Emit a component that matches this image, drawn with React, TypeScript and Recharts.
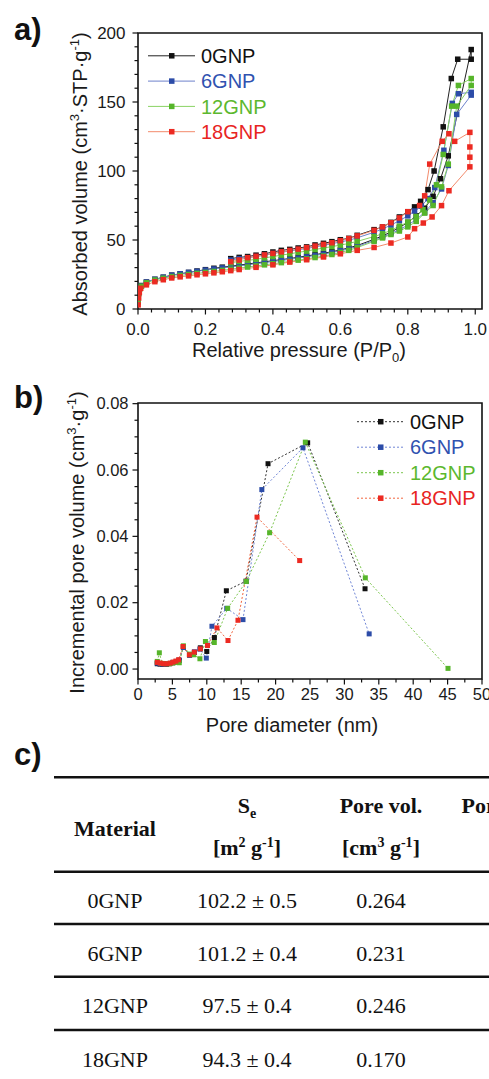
import React from "react";
import { LineChart, Line, XAxis, YAxis, ReferenceArea, Legend, Label } from "recharts";

type Pt = [number, number];

// a) N2 isotherms, relative pressure vs absorbed volume (adsorption, then desorption back down)
const iso0GNP: Pt[] = [
  [0.0005, 6], [0.002, 12], [0.005, 15.5], [0.01, 17], [0.025, 19.5], [0.05, 21.5], [0.075, 23], [0.1, 24.5],
  [0.125, 25.5], [0.15, 26.5], [0.175, 27.5], [0.2, 28.5], [0.225, 29.5], [0.25, 30.3], [0.275, 31], [0.3, 31.8],
  [0.325, 32.6], [0.35, 33.4], [0.375, 34.2], [0.4, 35], [0.425, 35.8], [0.45, 36.6], [0.475, 37.5], [0.5, 38.4],
  [0.525, 39.4], [0.55, 40.4], [0.575, 41.5], [0.6, 42.8], [0.625, 44.3], [0.65, 46], [0.7, 50.5], [0.725, 53],
  [0.75, 55.8], [0.775, 59], [0.8, 62.8], [0.825, 67.5], [0.85, 73], [0.875, 81.6], [0.897, 94.4], [0.92, 111],
  [0.988, 188],
  [0.988, 181], [0.948, 181], [0.929, 167], [0.905, 132], [0.878, 100], [0.86, 86.5], [0.838, 78], [0.82, 74],
  [0.8, 70.5], [0.775, 66.7], [0.75, 62.8], [0.725, 59.4], [0.7, 57.5], [0.65, 53.4], [0.625, 51.2], [0.6, 50.2],
  [0.575, 48.8], [0.55, 47.6], [0.525, 46.4], [0.5, 45], [0.475, 44.2], [0.45, 43.2], [0.425, 42.5], [0.4, 41.3],
  [0.375, 40], [0.35, 39], [0.325, 38], [0.3, 37.4], [0.275, 36.5],
];
const iso6GNP: Pt[] = [
  [0.0005, 5.5], [0.002, 11.5], [0.005, 15], [0.01, 16.8], [0.025, 19.5], [0.05, 21.5], [0.075, 23], [0.1, 24.5],
  [0.125, 25.5], [0.15, 26.5], [0.175, 27.3], [0.2, 28.2], [0.225, 29], [0.25, 29.8], [0.275, 30.5], [0.3, 31.2],
  [0.325, 32], [0.35, 32.8], [0.375, 33.6], [0.4, 34.4], [0.425, 35.2], [0.45, 36], [0.475, 36.9], [0.5, 37.8],
  [0.525, 38.8], [0.55, 39.8], [0.575, 40.9], [0.6, 42.2], [0.625, 43.6], [0.65, 45.3], [0.7, 49.6], [0.725, 52],
  [0.75, 54.7], [0.775, 57.5], [0.8, 60.8], [0.825, 64.8], [0.85, 70], [0.875, 77], [0.9, 87], [0.92, 104],
  [0.945, 141], [0.988, 155],
  [0.988, 157], [0.95, 156], [0.932, 149], [0.907, 115], [0.88, 88], [0.86, 80], [0.84, 74.5], [0.82, 71],
  [0.8, 67.5], [0.775, 64], [0.75, 60.8], [0.725, 58], [0.7, 55.6], [0.65, 51.6], [0.625, 49.8], [0.6, 48.6],
  [0.575, 47.3], [0.55, 46.1], [0.525, 45], [0.5, 43.8], [0.475, 43], [0.45, 42], [0.425, 41.2], [0.4, 40.2],
  [0.375, 39], [0.35, 38], [0.325, 37.2], [0.3, 36.5], [0.275, 35.5],
];
const iso12GNP: Pt[] = [
  [0.0005, 5], [0.002, 11], [0.005, 14.5], [0.01, 16.5], [0.025, 19], [0.05, 21], [0.075, 22.3], [0.1, 23.5],
  [0.125, 24.3], [0.15, 25], [0.175, 25.8], [0.2, 26.5], [0.225, 27.2], [0.25, 28], [0.275, 28.8], [0.3, 29.6],
  [0.325, 30.4], [0.35, 31.2], [0.375, 32], [0.4, 32.8], [0.425, 33.6], [0.45, 34.5], [0.475, 35.4], [0.5, 36.3],
  [0.525, 37.3], [0.55, 38.4], [0.575, 39.5], [0.6, 41], [0.625, 42.5], [0.65, 44.5], [0.7, 49], [0.725, 51.5],
  [0.75, 54], [0.775, 56.5], [0.8, 59.5], [0.825, 63.5], [0.85, 69.5], [0.875, 75], [0.9, 88.5], [0.92, 105],
  [0.945, 147], [0.988, 162], [0.988, 167],
  [0.95, 162], [0.93, 147], [0.905, 112], [0.885, 90], [0.865, 79], [0.845, 72], [0.825, 67], [0.8, 63],
  [0.775, 60], [0.75, 57], [0.725, 54.5], [0.7, 52.5], [0.65, 49], [0.625, 47.5], [0.6, 46.3], [0.575, 45.2],
  [0.55, 44.2], [0.525, 43.1], [0.5, 42], [0.475, 41], [0.45, 40], [0.425, 39], [0.4, 38], [0.375, 37],
  [0.35, 36], [0.325, 35.2], [0.3, 34.5], [0.275, 33.5],
];
const iso18GNP: Pt[] = [
  [0.0005, 3], [0.002, 8], [0.004, 12], [0.008, 15], [0.025, 17.5], [0.05, 19.8], [0.075, 21.2], [0.1, 22.5],
  [0.125, 23.3], [0.15, 24], [0.175, 24.8], [0.2, 25.5], [0.225, 26.2], [0.25, 27], [0.275, 27.8], [0.3, 28.6],
  [0.35, 30.2], [0.4, 32], [0.45, 34], [0.5, 35.7], [0.55, 37.7], [0.6, 40], [0.65, 42.5], [0.7, 44.6],
  [0.75, 47.8], [0.8, 52.2], [0.82, 58.2], [0.846, 62.3], [0.872, 66.7], [0.9, 74.9], [0.922, 85.7],
  [0.984, 103], [0.984, 110], [0.984, 117.4], [0.984, 128],
  [0.939, 121.5], [0.922, 127], [0.902, 121.5], [0.865, 105], [0.85, 82], [0.835, 75], [0.8, 70.5], [0.775, 66],
  [0.75, 62.5], [0.725, 59.5], [0.7, 57], [0.65, 53], [0.625, 51], [0.6, 49.5], [0.575, 48], [0.55, 46.8],
  [0.525, 45.6], [0.5, 44.5], [0.475, 43.4], [0.45, 42.4], [0.425, 41.4], [0.4, 40.3], [0.375, 39.2],
  [0.35, 38.2], [0.325, 37.2], [0.3, 35.5], [0.275, 34.3],
];

// b) incremental pore volume vs pore diameter (nm)
const pore0GNP: Pt[] = [
  [2.8, 0.0016], [3.2, 0.0015], [3.6, 0.0014], [4.1, 0.0014], [4.6, 0.0016], [5.1, 0.0019], [5.6, 0.0022],
  [6.0, 0.0026], [6.6, 0.0066], [7.5, 0.0042], [8.2, 0.005], [9.06, 0.0064], [10.0, 0.0053], [11.1, 0.0095],
  [12.84, 0.0236], [15.7, 0.0265], [18.9, 0.0619], [24.66, 0.0682], [33.0, 0.0242],
];
const pore6GNP: Pt[] = [
  [2.8, 0.0018], [3.2, 0.0016], [3.6, 0.0015], [4.1, 0.0015], [4.6, 0.0017], [5.1, 0.002], [5.6, 0.0023],
  [6.0, 0.0027], [6.6, 0.0065], [7.5, 0.0042], [8.2, 0.0052], [9.0, 0.006], [9.93, 0.0033], [10.75, 0.0129],
  [12.9, 0.0183], [15.26, 0.0149], [18.0, 0.0541], [23.98, 0.0667], [33.6, 0.0106],
];
const pore12GNP: Pt[] = [
  [2.8, 0.0023], [3.1, 0.0049], [3.5, 0.0017], [4.0, 0.0016], [4.5, 0.0016], [5.0, 0.0018], [5.5, 0.002],
  [6.0, 0.0019], [6.6, 0.007], [7.5, 0.0045], [8.1, 0.0043], [9.0, 0.0031], [9.8, 0.0083], [11.09, 0.008],
  [13.03, 0.0183], [15.74, 0.0264], [19.13, 0.0411], [24.32, 0.0684], [33.04, 0.0275], [45.06, 0.0002],
];
const pore18GNP: Pt[] = [
  [2.8, 0.002], [3.25, 0.0018], [3.73, 0.0016], [4.2, 0.0016], [4.7, 0.0018], [5.1, 0.0021], [5.5, 0.0024],
  [5.9, 0.0028], [6.54, 0.0068], [7.46, 0.0043], [8.19, 0.0051], [9.06, 0.0061], [10.1, 0.0071],
  [11.48, 0.0124], [13.08, 0.0086], [14.53, 0.0147], [17.3, 0.0458], [23.5, 0.0327],
];

const seriesNames = ["0GNP", "6GNP", "12GNP", "18GNP"];
const isoSeries = [iso0GNP, iso6GNP, iso12GNP, iso18GNP];
const poreSeries = [pore0GNP, pore6GNP, pore12GNP, pore18GNP];

const isoXMajor = [0, 0.2, 0.4, 0.6, 0.8, 1.0];
const isoYMajor = [0, 50, 100, 150, 200];
const poreXMajor = [0, 5, 10, 15, 20, 25, 30, 35, 40, 45, 50];
const poreYMajor = [0, 0.02, 0.04, 0.06, 0.08];

// c) table
const tableMaterials = ["0GNP", "6GNP", "12GNP", "18GNP"];
const tableSurface = ["102.2 ± 0.5", "101.2 ± 0.4", "97.5 ± 0.4", "94.3 ± 0.4"];
const tablePoreVol = ["0.264", "0.231", "0.246", "0.170"];

const markColors = ["#111111", "#2c4ca8", "#56b52a", "#ec2a22"];
const isoLineColors = ["#222222", "#6d82cc", "#8ad364", "#f38b6c"];
const poreLineColors = ["#333333", "#7086d6", "#7cc64e", "#f2663f"];
const textColors = ["#111111", "#3052b0", "#5cb82e", "#e8251f"];

const SANS = "'Liberation Sans', Arial, sans-serif";
const SERIF = "'Liberation Serif', 'Times New Roman', serif";

const toRows = (pts: Pt[]) => pts.map(([p, v]) => ({ p, v }));

function withMinor(majors: number[], sub: number) {
  const out: number[] = [];
  for (let i = 0; i < majors.length - 1; i++) {
    const step = (majors[i + 1] - majors[i]) / sub;
    for (let k = 0; k < sub; k++) out.push(+(majors[i] + k * step).toFixed(5));
  }
  out.push(majors[majors.length - 1]);
  return out;
}

const isMajor = (majors: number[], v: number) => majors.some((m) => Math.abs(m - v) < 1e-7);

const squareDot = (fill: string, size: number) => (props: any) => {
  const { cx, cy, index } = props;
  if (cx == null || cy == null) return <g key={index} />;
  return <rect key={index} x={cx - size / 2} y={cy - size / 2} width={size} height={size} fill={fill} />;
};

function bottomTick(majors: number[], fmt: (v: number) => string, labelDy: number, fs: number) {
  return (props: any) => {
    const { x, y, payload } = props;
    const major = isMajor(majors, payload.value);
    return (
      <g>
        <line x1={x} x2={x} y1={y} y2={y + (major ? 5.5 : 3.5)} stroke="#111" strokeWidth={1.2} />
        {major && (
          <text x={x} y={y + labelDy} textAnchor="middle" fontSize={fs} fill="#1a1a1a" fontFamily={SANS}>
            {fmt(payload.value)}
          </text>
        )}
      </g>
    );
  };
}

function leftTick(majors: number[], fmt: (v: number) => string, gap: number, fs: number) {
  return (props: any) => {
    const { x, y, payload } = props;
    const major = isMajor(majors, payload.value);
    return (
      <g>
        <line x1={x - (major ? 5.5 : 3.5)} x2={x} y1={y} y2={y} stroke="#111" strokeWidth={1.2} />
        {major && (
          <text x={x - gap} y={y} dy="0.35em" textAnchor="end" fontSize={fs} fill="#1a1a1a" fontFamily={SANS}>
            {fmt(payload.value)}
          </text>
        )}
      </g>
    );
  };
}

function LegendBox({ x0, y0, dy, dash }: { x0: number; y0: number; dy: number; dash?: string }) {
  const lineColors = dash ? poreLineColors : isoLineColors;
  return (
    <svg width={489} height={370} style={{ position: "absolute", left: 0, top: 0 }}>
      {seriesNames.map((name, i) => {
        const cy = y0 + i * dy;
        return (
          <g key={name}>
            <line x1={x0} x2={x0 + 47} y1={cy} y2={cy} stroke={lineColors[i]} strokeWidth={1} strokeDasharray={dash} />
            <rect x={x0 + 21} y={cy - 2.75} width={5.5} height={5.5} fill={markColors[i]} />
            <text x={x0 + 53} y={cy} dy="0.36em" fontSize={20} fill={textColors[i]} fontFamily={SANS}>
              {name}
            </text>
          </g>
        );
      })}
    </svg>
  );
}

function IsothermChart() {
  return (
    <LineChart width={489} height={370} margin={{ top: 33, right: 7, bottom: 0, left: 0 }}>
      <XAxis
        type="number"
        dataKey="p"
        domain={[0, 1.02]}
        ticks={withMinor(isoXMajor, 5)}
        interval={0}
        allowDataOverflow
        height={61}
        axisLine={false}
        tickLine={false}
        tickSize={0}
        tickMargin={0}
        tick={bottomTick(isoXMajor, (v) => v.toFixed(1), 26, 17)}
      >
        <Label
          content={() => (
            <text x={299} y={357} textAnchor="middle" fontSize={20} fill="#1a1a1a" fontFamily={SANS}>
              Relative pressure (P/P<tspan dy={5} fontSize={13}>0</tspan>
              <tspan dy={-5}>)</tspan>
            </text>
          )}
        />
      </XAxis>
      <YAxis
        type="number"
        domain={[0, 200]}
        ticks={withMinor(isoYMajor, 5)}
        interval={0}
        width={138}
        axisLine={false}
        tickLine={false}
        tickSize={0}
        tickMargin={0}
        tick={leftTick(isoYMajor, (v) => String(v), 12.5, 17)}
      >
        <Label
          content={() => (
            <text transform="translate(87,174) rotate(-90)" textAnchor="middle" fontSize={20} fill="#1a1a1a" fontFamily={SANS}>
              Absorbed volume (cm<tspan dy={-8} fontSize={13}>3</tspan>
              <tspan dy={8}>·STP·g</tspan>
              <tspan dy={-8} fontSize={13}>-1</tspan>
              <tspan dy={8}>)</tspan>
            </text>
          )}
        />
      </YAxis>
      <ReferenceArea x1={0} x2={1.02} y1={0} y2={200} fill="none" stroke="#111" strokeWidth={1.6} ifOverflow="visible" />
      {isoSeries.map((s, i) => (
        <Line
          key={seriesNames[i]}
          data={toRows(s)}
          dataKey="v"
          type="linear"
          stroke={isoLineColors[i]}
          strokeWidth={1}
          dot={squareDot(markColors[i], 5.5)}
          activeDot={false}
          isAnimationActive={false}
        />
      ))}
      <Legend
        layout="vertical"
        align="center"
        verticalAlign="middle"
        wrapperStyle={{ position: "absolute", left: 0, top: 0, width: 489, height: 370 }}
        content={() => <LegendBox x0={148} y0={55.8} dy={25.3} />}
      />
    </LineChart>
  );
}

function PoreChart() {
  return (
    <LineChart width={489} height={370} margin={{ top: 33, right: 7, bottom: 0, left: 0 }}>
      <XAxis
        type="number"
        dataKey="p"
        domain={[0, 50]}
        ticks={withMinor(poreXMajor, 2)}
        interval={0}
        allowDataOverflow
        height={61}
        axisLine={false}
        tickLine={false}
        tickSize={0}
        tickMargin={0}
        tick={bottomTick(poreXMajor, (v) => String(v), 21, 16.5)}
      >
        <Label
          content={() => (
            <text x={292} y={361.5} textAnchor="middle" fontSize={20} fill="#1a1a1a" fontFamily={SANS}>
              Pore diameter (nm)
            </text>
          )}
        />
      </XAxis>
      <YAxis
        type="number"
        domain={[-0.003, 0.0802]}
        ticks={withMinor(poreYMajor, 4)}
        interval={0}
        allowDataOverflow
        width={138}
        axisLine={false}
        tickLine={false}
        tickSize={0}
        tickMargin={0}
        tick={leftTick(poreYMajor, (v) => v.toFixed(2), 9.5, 16.5)}
      >
        <Label
          content={() => (
            <text transform="translate(83.5,172.5) rotate(-90)" textAnchor="middle" fontSize={20} fill="#1a1a1a" fontFamily={SANS}>
              Incremental pore volume (cm<tspan dy={-8} fontSize={13}>3</tspan>
              <tspan dy={8}>·g</tspan>
              <tspan dy={-8} fontSize={13}>-1</tspan>
              <tspan dy={8}>)</tspan>
            </text>
          )}
        />
      </YAxis>
      <ReferenceArea x1={0} x2={50} y1={-0.003} y2={0.0802} fill="none" stroke="#111" strokeWidth={1.6} ifOverflow="visible" />
      {poreSeries.map((s, i) => (
        <Line
          key={seriesNames[i]}
          data={toRows(s)}
          dataKey="v"
          type="linear"
          stroke={poreLineColors[i]}
          strokeWidth={1}
          strokeDasharray="2 2"
          dot={squareDot(markColors[i], 5)}
          activeDot={false}
          isAnimationActive={false}
        />
      ))}
      <Legend
        layout="vertical"
        align="center"
        verticalAlign="middle"
        wrapperStyle={{ position: "absolute", left: 0, top: 0, width: 489, height: 370 }}
        content={() => <LegendBox x0={357} y0={51.7} dy={25.5} dash="2 2" />}
      />
    </LineChart>
  );
}

// svg starts at page y=725, so every y below is page y minus 725
function PropertiesTable() {
  const rules = [52.3, 146.7, 199, 251.7, 305];
  const rowBase = [183, 235.7, 288.3, 341.7];
  const cols = [115, 247, 381];
  return (
    <svg width={489} height={354} fontFamily={SERIF}>
      <text x={14} y={40} fontSize={31} fontWeight="bold" fontFamily={SANS} fill="#111">c)</text>
      {rules.map((y) => (
        <line key={y} x1={54} x2={489} y1={y} y2={y} stroke="#111" strokeWidth={2.4} />
      ))}
      <text x={cols[0]} y={111} textAnchor="middle" fontSize={22} fontWeight="bold" fill="#111">Material</text>
      <text x={cols[1]} y={88} textAnchor="middle" fontSize={22} fontWeight="bold" fill="#111">
        S<tspan dy={5} fontSize={14}>e</tspan>
      </text>
      <text x={cols[1]} y={130} textAnchor="middle" fontSize={22} fontWeight="bold" fill="#111">
        [m<tspan dy={-8} fontSize={14}>2</tspan>
        <tspan dy={8}> g</tspan>
        <tspan dy={-8} fontSize={14}>-1</tspan>
        <tspan dy={8}>]</tspan>
      </text>
      <text x={cols[2]} y={88} textAnchor="middle" fontSize={22} fontWeight="bold" fill="#111">Pore vol.</text>
      <text x={cols[2]} y={130} textAnchor="middle" fontSize={22} fontWeight="bold" fill="#111">
        [cm<tspan dy={-8} fontSize={14}>3</tspan>
        <tspan dy={8}> g</tspan>
        <tspan dy={-8} fontSize={14}>-1</tspan>
        <tspan dy={8}>]</tspan>
      </text>
      <text x={461.5} y={88} fontSize={22} fontWeight="bold" fill="#111">Pore size</text>
      {tableMaterials.map((m, i) => (
        <g key={m}>
          <text x={cols[0]} y={rowBase[i]} textAnchor="middle" fontSize={22} fill="#111">{m}</text>
          <text x={cols[1]} y={rowBase[i]} textAnchor="middle" fontSize={22} fill="#111">{tableSurface[i]}</text>
          <text x={cols[2]} y={rowBase[i]} textAnchor="middle" fontSize={22} fill="#111">{tablePoreVol[i]}</text>
        </g>
      ))}
    </svg>
  );
}

function PanelTag({ label, top }: { label: string; top: number }) {
  return (
    <svg width={60} height={50} style={{ position: "absolute", left: 0, top }}>
      <text x={14} y={40} fontSize={31} fontWeight="bold" fontFamily={SANS} fill="#111">{label}</text>
    </svg>
  );
}

export default function App() {
  return (
    <div
      style={{
        position: "absolute",
        left: 0,
        top: 0,
        width: 489,
        height: 1079,
        overflow: "hidden",
        background: "#fff",
        fontFamily: SANS,
      }}
    >
      <div style={{ position: "absolute", left: 0, top: 0 }}>
        <IsothermChart />
      </div>
      <div style={{ position: "absolute", left: 0, top: 370 }}>
        <PoreChart />
      </div>
      <div style={{ position: "absolute", left: 0, top: 725 }}>
        <PropertiesTable />
      </div>
      <PanelTag label="a)" top={0} />
      <PanelTag label="b)" top={368} />
    </div>
  );
}
